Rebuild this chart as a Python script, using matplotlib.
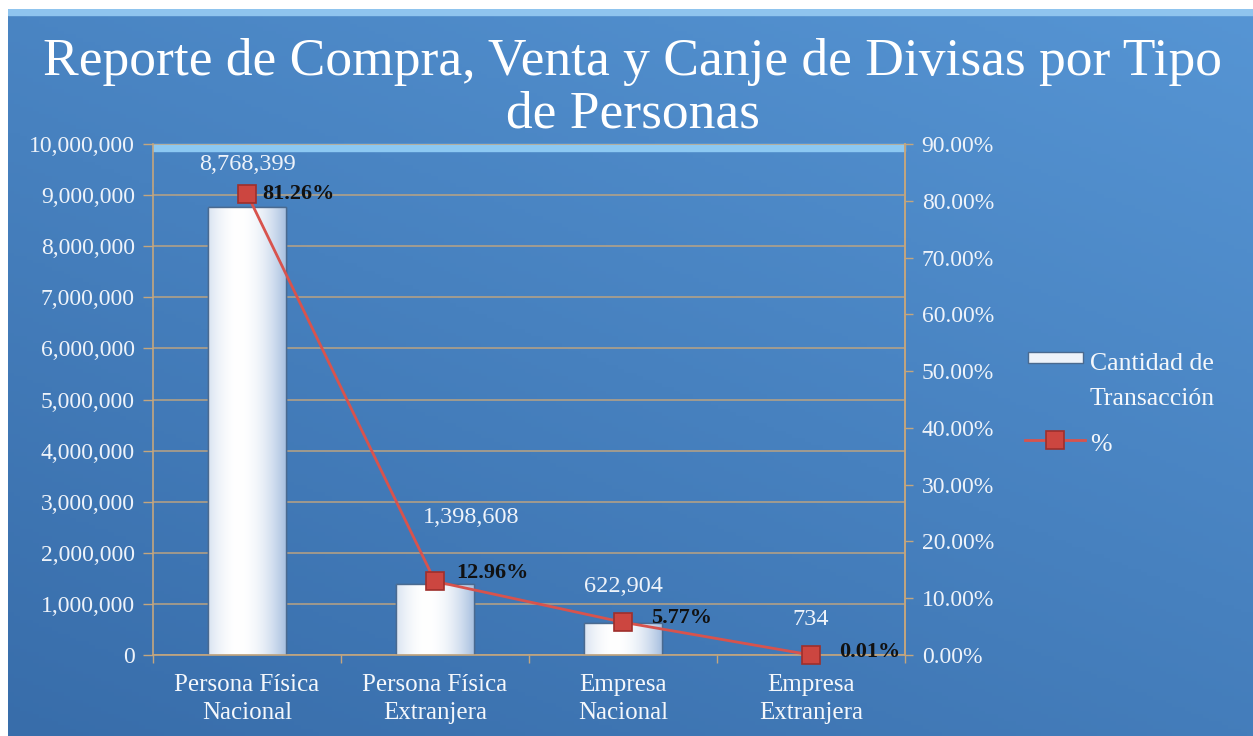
import numpy as np
import matplotlib
matplotlib.use("Agg")
import matplotlib.pyplot as plt
from matplotlib.patches import Rectangle
from matplotlib.lines import Line2D
from matplotlib.ticker import FuncFormatter, MultipleLocator

# ---- data ----
categories = ["Persona Física\nNacional", "Persona Física\nExtranjera",
              "Empresa\nNacional", "Empresa\nExtranjera"]
cantidad = [8768399, 1398608, 622904, 734]
porcentaje = [81.26, 12.96, 5.77, 0.01]
title = "Reporte de Compra, Venta y Canje de Divisas por Tipo\nde Personas"
legend_labels = ["Cantidad de\nTransacción", "%"]

plt.rcParams['font.family'] = ['Liberation Serif', 'DejaVu Serif']

W, H = 1253, 736
fig = plt.figure(figsize=(W / 100, H / 100), dpi=100, facecolor='white')


def fx(px):
    return px / W


def fy(py):
    return 1 - py / H


# background panel with gradient
px0, py1 = fx(8), fy(9)
bg = fig.add_axes([px0, 0, 1 - px0, py1], zorder=-10)
yy, xx = np.mgrid[0:1:200j, 0:1:200j]  # yy=0 -> bottom
t = 0.6 * yy + 0.4 * xx
c_dark = np.array([0x38, 0x6d, 0xaa]) / 255
c_light = np.array([0x56, 0x95, 0xd4]) / 255
img = c_dark[None, None, :] * (1 - t[..., None]) + c_light[None, None, :] * t[..., None]
bg.imshow(img, extent=[0, 1, 0, 1], aspect='auto', origin='lower')
bg.add_patch(Rectangle((0, 0.992), 1, 0.008, color='#8fc4ee', transform=bg.transAxes))
bg.set_xlim(0, 1); bg.set_ylim(0, 1)
bg.axis('off')

ax = fig.add_axes([fx(153), fy(655), (905 - 153) / W, (655 - 144) / H])
ax.set_facecolor('none')
x = np.arange(len(categories))

grid_c = '#c4a67e'
ax.yaxis.set_major_locator(MultipleLocator(1_000_000))
ax.yaxis.grid(True, color=grid_c, lw=1.2, alpha=0.85, zorder=0)
ax.set_axisbelow(True)

# back-wall top band
ax.add_patch(Rectangle((-0.5, 9_860_000), 4, 140_000, color='#8cc8f2', zorder=0.5,
                       clip_on=False))

bar_edge = '#4a6a90'
bars = ax.bar(x, cantidad, width=0.41, color='white', edgecolor=bar_edge, lw=1.0, zorder=2)
grad = np.linspace(0, 1, 100)
gimg = np.zeros((2, 100, 3))
edge_c = np.array([0xa8, 0xc0, 0xe0]) / 255
prof = np.abs(grad - 0.4) / 0.6
for i in range(3):
    gimg[:, :, i] = (1 - prof ** 2)[None, :] * 1.0 + (prof ** 2)[None, :] * edge_c[i]
for b in bars:
    bx, by, bw, bh = b.get_x(), b.get_y(), b.get_width(), b.get_height()
    if bh <= 0:
        continue
    im = ax.imshow(gimg, extent=[bx, bx + bw, by, by + bh], aspect='auto', zorder=2.1,
                   interpolation='bilinear')
    im.set_clip_path(b)
    ax.add_patch(Rectangle((bx, by), bw, bh, fill=False, edgecolor=bar_edge, lw=1.0, zorder=2.2))
ax.set_xlim(-0.5, len(categories) - 0.5)
ax.set_ylim(0, 10_000_000)

ax.yaxis.set_major_formatter(FuncFormatter(lambda v, p: f"{int(v):,}"))
ax.tick_params(axis='y', colors=grid_c, labelcolor='#eef3fa', labelsize=17, length=7,
               width=1, pad=6)
ax.set_xticks(x)
ax.set_xticklabels(categories, color='#f4f7fb', fontsize=18, linespacing=1.32)
ax.set_xticks(np.arange(-0.5, len(categories) + 0.5, 1), minor=True)
ax.tick_params(axis='x', which='major', length=0, pad=14)
ax.tick_params(axis='x', which='minor', length=6, color=grid_c, width=1)
ax.spines['top'].set_visible(False)
for s in ['left', 'bottom', 'right']:
    ax.spines[s].set_color(grid_c)
    ax.spines[s].set_linewidth(1.2)

# value labels
val_offsets = [(0, 23), (26, 40), (0, 19), (0, 18)]
for xi, v, off in zip(x, cantidad, val_offsets):
    ax.annotate(f"{v:,}", (xi, v), xytext=off, textcoords='offset points',
                ha='center', va='bottom', fontsize=17.5, color='#eef3fa')

ax2 = ax.twinx()
ax2.set_ylim(0, 90)
ax2.yaxis.set_major_locator(MultipleLocator(10))
ax2.yaxis.set_major_formatter(FuncFormatter(lambda v, p: f"{v:.2f}%"))
ax2.tick_params(axis='y', colors=grid_c, labelcolor='#eef3fa', labelsize=17, length=6,
                width=1, pad=6)
for s in ['top', 'left', 'bottom']:
    ax2.spines[s].set_visible(False)
ax2.spines['right'].set_color(grid_c)
ax2.spines['right'].set_linewidth(1.2)

line_c = '#d8534d'
mk = dict(marker='s', ms=13, mfc='#cc4640', mec='#9e2f2b', mew=1.2)
ax2.plot(x, porcentaje, color=line_c, lw=2, zorder=5)
ax2.plot(x, porcentaje, ls='none', zorder=6, clip_on=False, **mk)
pct_offsets = [(11, 0), (15, 6), (20, 3), (20, 2)]
for xi, p, off in zip(x, porcentaje, pct_offsets):
    ax2.annotate(f"{p:.2f}%", (xi, p), xytext=off, textcoords='offset points',
                 ha='left', va='center', fontsize=16, color='#111111', fontweight='bold',
                 zorder=7)

fig.text(0.505, fy(88), title, ha='center', va='center', fontsize=38.5,
         color='white', linespacing=1.12)

# legend (drawn manually to keep first-line alignment)
fig.patches.append(Rectangle((fx(1028), fy(363)), (1083 - 1028) / W, 11 / H,
                             transform=fig.transFigure, facecolor='#eef3fa',
                             edgecolor=bar_edge, lw=1))
fig.text(fx(1090), fy(353), legend_labels[0], ha='left', va='top', fontsize=18.5,
         color='#f4f7fb', linespacing=1.75, transform=fig.transFigure)
fig.lines.append(Line2D([fx(1025), fx(1085)], [fy(440), fy(440)], transform=fig.transFigure,
                        color=line_c, lw=2))
fig.lines.append(Line2D([fx(1055)], [fy(440)], transform=fig.transFigure, ls='none', **mk))
fig.text(fx(1090), fy(445), legend_labels[1], ha='left', va='center', fontsize=18.5,
         color='#f4f7fb', transform=fig.transFigure)

fig.savefig("out.png", dpi=100)
